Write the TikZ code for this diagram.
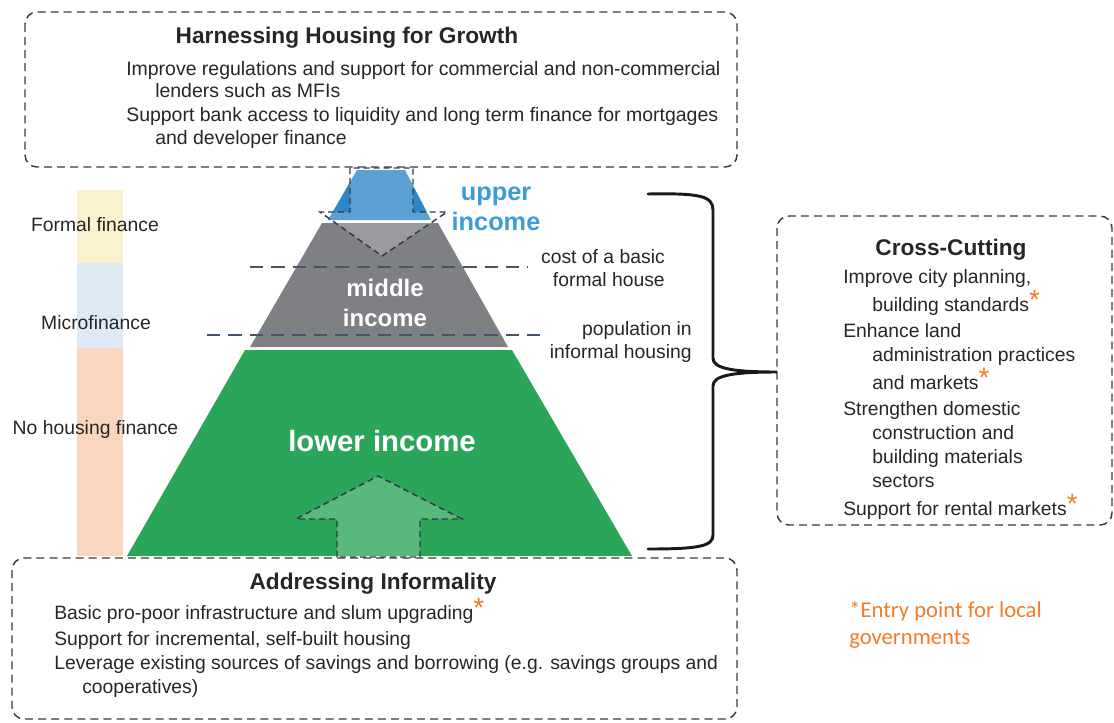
\documentclass[tikz,border=0pt]{standalone}
\usepackage{fontspec}
\setmainfont{Liberation Sans}
\newfontfamily\calib{Carlito}
\definecolor{boxline}{HTML}{3A3A3A}
\definecolor{navy}{HTML}{44546A}
\definecolor{arrline}{HTML}{2F3B4C}
\definecolor{pgreen}{HTML}{2BA55A}
\definecolor{pgray}{HTML}{7F8084}
\definecolor{pblue}{HTML}{2E86C8}
\definecolor{tblue}{HTML}{3D9BD7}
\definecolor{orng}{HTML}{F47B2A}
\definecolor{yel}{HTML}{FBF1CE}
\definecolor{lblue}{HTML}{DDE9F4}
\definecolor{peach}{HTML}{F8D6BF}
\newcommand\orast{{\color{orng}\raisebox{0.12em}{\fontsize{21}{21}\selectfont *}}}
\tikzset{
  dbox/.style={draw=boxline, line width=1.1pt, dash pattern=on 6pt off 3.8pt, rounded corners=9pt},
  lvl/.style={draw=navy, line width=2.2pt, dash pattern=on 10pt off 6pt},
  arrbox/.style={fill=white, fill opacity=0.22, draw=arrline, draw opacity=1, line width=1.1pt, dash pattern=on 4.5pt off 3pt},
  body/.style={font=\fontsize{14.5}{17}\selectfont, inner sep=0pt, text height=0.75em, text depth=0.25em, text=black!85},
  bl/.style={body, anchor=west},
  tl/.style={bl, font=\fontsize{14.6}{17}\selectfont},
  br/.style={body, anchor=east},
  bc/.style={body, anchor=center},
  ttl/.style={font=\fontsize{17}{20}\selectfont\bfseries, inner sep=0pt, text height=0.75em, text depth=0.25em, text=black!85},
  lvltext/.style={font=\fontsize{18}{20}\selectfont\bfseries, inner sep=0pt, text height=0.75em, text depth=0.25em, text=white},
  brace/.style={draw=black!90, line width=2.2pt, line cap=round}
}
\begin{document}
\begin{tikzpicture}[x=0.75pt,y=-0.75pt]
\useasboundingbox (0,0) rectangle (1114,722);
% finance bar
\fill[yel] (77,190) rectangle (123,263);
\fill[lblue] (77,263) rectangle (123,348);
\fill[peach] (77,348) rectangle (123,556);
\node[bc] (ff) at (95,228) {Formal finance};
\node[bc] (mf) at (96,326) {Microfinance};
\node[bc] (nf) at (95.5,431) {No housing finance};
% pyramid
\fill[pblue] (357,170) -- (405,170) -- (431,220) -- (328,220) -- cycle;
\fill[pgray] (322,223) -- (438,223) -- (508,347) -- (250,347) -- cycle;
\fill[pgreen] (245,350) -- (512,350) -- (632,556) -- (127,556) -- cycle;
% arrows
\draw[arrbox] (350,168) -- (350,212) -- (320,212) -- (382,256) -- (447,212) -- (413,212) -- (413,168) -- cycle;
\draw[arrbox] (337,557) -- (337,519) -- (296,519) -- (378,476) -- (462,519) -- (420,519) -- (420,557) -- cycle;
% level lines
\draw[lvl] (250,267) -- (528,267);
\draw[lvl] (207,335) -- (548,335);
% level labels
\node[lvltext, text=tblue, font=\fontsize{19}{21}\selectfont\bfseries] (up1) at (496,197) {upper};
\node[lvltext, text=tblue, font=\fontsize{19}{21}\selectfont\bfseries] (up2) at (496,227) {income};
\node[lvltext] (mid1) at (385,293) {middle};
\node[lvltext] (mid2) at (385,323) {income};
\node[lvltext, font=\fontsize{22}{24}\selectfont\bfseries] (low) at (382,448) {lower income};
\node[br] (c1) at (665,260) {cost of a basic};
\node[br] (c2) at (665,283) {formal house};
\node[br] (p1) at (692,332) {population in};
\node[br] (p2) at (692,355) {informal housing};
% top box
\draw[dbox] (25,12) rectangle (737,167);
\node[ttl] (t0) at (347,40) {Harnessing Housing for Growth};
\node[tl] (t1) at (126,72) {Improve regulations and support for commercial and non-commercial};
\node[tl] (t2) at (155,94) {lenders such as MFIs};
\node[tl] (t3) at (126,118) {Support bank access to liquidity and long term finance for mortgages};
\node[tl] (t4) at (155,141) {and developer finance};
% bottom box
\draw[dbox] (12,558) rectangle (737,719);
\node[ttl] (b0) at (373,586) {Addressing Informality};
\node[bl] (b1) at (54,616) {Basic pro-poor infrastructure and slum upgrading\orast};
\node[bl] (b2) at (54,642) {Support for incremental, self-built housing};
\node[bl] (b3) at (54,666) {Leverage existing sources of savings and borrowing (e.g. savings groups and};
\node[bl] (b4) at (82,690) {cooperatives)};
% right box
\draw[dbox] (777,216) rectangle (1112,525);
\coordinate (rbw) at (777,372);
\node[ttl] (r0) at (951,252) {Cross-Cutting};
\node[bl] (r1) at (843,280) {Improve city planning,};
\node[bl] (r2) at (872,308) {building standards\orast};
\node[bl] (r3) at (843,334) {Enhance land};
\node[bl] (r4) at (872,358) {administration practices};
\node[bl] (r5) at (872,386) {and markets\orast};
\node[bl] (r6) at (843,412) {Strengthen domestic};
\node[bl] (r7) at (872,436) {construction and};
\node[bl] (r8) at (872,460) {building materials};
\node[bl] (r9) at (872,484) {sectors};
\node[bl] (r10) at (843,512) {Support for rental markets\orast};
% brace
\coordinate (brt) at (648,194);
\coordinate (brb) at (648,549);
\draw[brace] (brt) .. controls (700,193) and (713,196) .. (713,210) -- (713,358)
  .. controls (713,368) and (730,372) .. (rbw)
  .. controls (730,372) and (713,376) .. (713,386) -- (713,535)
  .. controls (713,546) and (700,549) .. (brb);
% entry point note
\node[anchor=west, inner sep=0pt, text=orng, font=\calib\fontsize{17}{20}\selectfont, text height=0.75em, text depth=0.25em] (e1) at (849,614) {*Entry point for local};
\node[anchor=west, inner sep=0pt, text=orng, font=\calib\fontsize{17}{20}\selectfont, text height=0.75em, text depth=0.25em] (e2) at (849,641) {governments};
\end{tikzpicture}
\end{document}
